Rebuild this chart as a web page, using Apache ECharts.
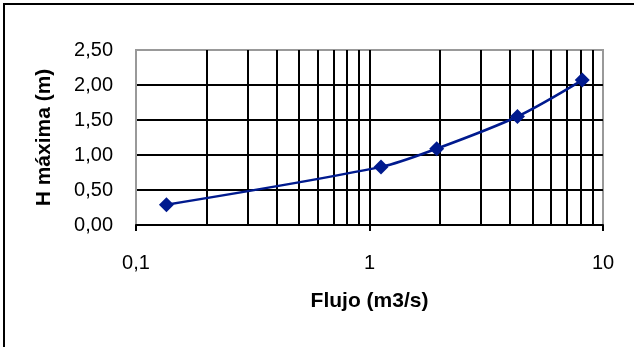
<!DOCTYPE html>
<html>
<head>
<meta charset="utf-8">
<script src="https://cdn.jsdelivr.net/npm/echarts@6/dist/echarts.min.js"></script>
<style>html,body{margin:0;padding:0;background:#fff;}#c{width:634px;height:347px;}</style>
</head>
<body>
<div id="c"></div>
<script>
var flujo = [0.135, 1.12, 1.94, 4.3, 8.15];
var hMax = [0.29, 0.83, 1.09, 1.55, 2.07];
var minorGridX = [0.2,0.3,0.4,0.5,0.6,0.7,0.8,0.9,2,3,4,5,6,7,8,9];
var yMin = 0, yMax = 2.5, yStep = 0.5;
var xMin = 0.1, xMax = 10;

var font = 'Liberation Sans, Arial, sans-serif';
var chart = echarts.init(document.getElementById('c'), null, {renderer: 'canvas'});
chart.setOption({
  animation: false,
  backgroundColor: '#fff',
  graphic: [{
    type: 'rect', shape: {x: 4, y: 4, width: 720, height: 420},
    style: {fill: 'none', stroke: '#000', lineWidth: 2}, silent: true, z: 100
  }],
  grid: {left: 136, right: 31, top: 50, bottom: 122, show: true, borderColor: '#999', borderWidth: 2, backgroundColor: '#fff'},
  xAxis: {
    type: 'log', logBase: 10, min: xMin, max: xMax,
    name: 'Flujo (m3/s)', nameLocation: 'middle', nameGap: 66,
    nameTextStyle: {fontFamily: font, fontSize: 21, fontWeight: 'bold', color: '#000'},
    axisLine: {show: true, onZero: false, lineStyle: {color: '#000', width: 2}},
    axisTick: {show: true, inside: false, length: 6, lineStyle: {color: '#000', width: 2}},
    axisLabel: {fontFamily: font, fontSize: 20, color: '#000', margin: 28,
      formatter: function (v) { return String(v).replace('.', ','); }},
    splitLine: {show: true, showMinLine: false, showMaxLine: false, lineStyle: {color: '#000', width: 2}}
  },
  yAxis: {
    type: 'value', min: yMin, max: yMax, interval: yStep,
    name: 'H máxima (m)', nameLocation: 'middle', nameGap: 81, nameRotate: 90,
    nameTextStyle: {fontFamily: font, fontSize: 21, fontWeight: 'bold', color: '#000'},
    axisLine: {show: true, lineStyle: {color: '#999', width: 2}},
    axisTick: {show: false},
    axisLabel: {fontFamily: font, fontSize: 20, color: '#000', margin: 23,
      formatter: function (v) { return v.toFixed(2).replace('.', ','); }},
    splitLine: {show: true, showMinLine: false, showMaxLine: false, lineStyle: {color: '#000', width: 2}}
  },
  series: [{
    type: 'line',
    data: flujo.map(function (x, i) { return [x, hMax[i]]; }),
    smooth: 0.3,
    symbol: 'diamond', symbolSize: 15,
    itemStyle: {color: '#001a8e'},
    lineStyle: {color: '#001a8e', width: 2.5},
    z: 10,
    markLine: {
      silent: true, symbol: 'none', label: {show: false},
      lineStyle: {color: '#000', width: 2, type: 'solid'},
      data: minorGridX.map(function (v) { return {xAxis: v}; }),
      z: 1
    }
  }]
});
</script>
</body>
</html>
